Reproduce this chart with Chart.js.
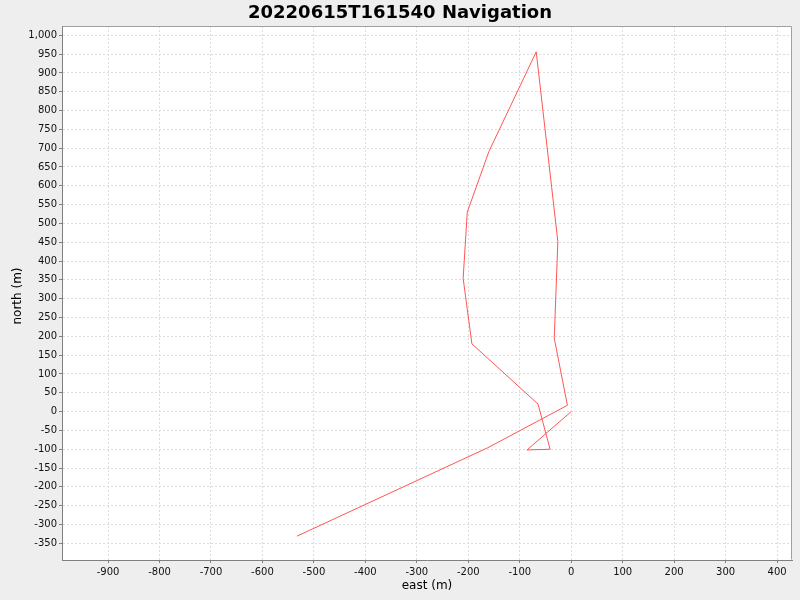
<!DOCTYPE html>
<html>
<head>
<meta charset="utf-8">
<script src="https://cdn.jsdelivr.net/npm/chart.js@4.4.1/dist/chart.umd.min.js"></script>
<style>
html,body{margin:0;padding:0;background:#eeeeee;}
#wrap{width:800px;height:600px;}
</style>
</head>
<body>
<div id="wrap"><canvas id="c" width="800" height="600"></canvas></div>
<script>
// Data (metres)
const eastValues  = [0, -86, -41, -64.5, -193, -210, -202, -160, -68, -26, -33, -7.4, -162, -533];
const northValues = [0, -102, -100, 20, 180, 354, 530, 691, 956, 452, 195, 16.7, -96, -331];
const xTickValues = [-900, -800, -700, -600, -500, -400, -300, -200, -100, 0, 100, 200, 300, 400];
const yTickValues = [-350, -300, -250, -200, -150, -100, -50, 0, 50, 100, 150, 200, 250, 300, 350, 400, 450, 500, 550, 600, 650, 700, 750, 800, 850, 900, 950, 1000];
const titleText = '20220615T161540 Navigation';
const xTitle = 'east (m)';
const yTitle = 'north (m)';

const points = eastValues.map((e, i) => ({x: e, y: northValues[i]}));

const bgPlugin = {
  id: 'bg',
  beforeDraw(chart) {
    const {ctx, chartArea: a} = chart;
    ctx.save();
    ctx.fillStyle = '#eeeeee';
    ctx.fillRect(0, 0, chart.width, chart.height);
    ctx.fillStyle = '#ffffff';
    ctx.fillRect(a.left, a.top, a.right - a.left, a.bottom - a.top);
    ctx.restore();
  },
  afterDraw(chart) {
    const {ctx, chartArea: a} = chart;
    ctx.save();
    ctx.strokeStyle = '#a0a0a0';
    ctx.lineWidth = 1;
    ctx.beginPath();
    ctx.moveTo(Math.round(a.left) + 0.5, Math.round(a.top) + 0.5);
    ctx.lineTo(Math.round(a.right) - 0.5, Math.round(a.top) + 0.5);
    ctx.lineTo(Math.round(a.right) - 0.5, Math.round(a.bottom) - 0.5);
    ctx.stroke();
    // y axis title, centred like the reference
    ctx.translate(18, (a.top + a.bottom) / 2 + 3);
    ctx.rotate(-Math.PI / 2);
    ctx.fillStyle = '#000';
    ctx.font = '12px "DejaVu Sans"';
    ctx.textAlign = 'center';
    ctx.textBaseline = 'middle';
    ctx.fillText(yTitle, 0, 0);
    ctx.restore();
  }
};

const tickFont = {family: 'DejaVu Sans', size: 10};
const gridCommon = {
  color: '#dcdcdc',
  lineWidth: 1,
  tickLength: 3,
  tickColor: '#808080',
  tickWidth: 1,
  tickBorderDash: [1, 0]
};

new Chart(document.getElementById('c'), {
  type: 'scatter',
  data: {
    datasets: [{
      data: points,
      showLine: true,
      borderColor: '#ff5555',
      backgroundColor: '#ff5555',
      borderWidth: 1,
      pointRadius: 0,
      pointHoverRadius: 0,
      tension: 0
    }]
  },
  options: {
    responsive: false,
    animation: false,
    devicePixelRatio: 1,
    layout: {padding: 0},
    plugins: {
      legend: {display: false},
      tooltip: {enabled: false},
      title: {
        display: true,
        text: titleText,
        color: '#000',
        font: {family: 'DejaVu Sans', size: 18, weight: 'bold', lineHeight: 1.2},
        padding: {top: 3, bottom: 1.4}
      }
    },
    scales: {
      x: {
        type: 'linear',
        position: 'bottom',
        min: -989.5,
        max: 429,
        afterBuildTicks: s => { s.ticks = xTickValues.map(v => ({value: v})); },
        afterFit: s => { s.height = 40; },
        ticks: {
          font: tickFont, color: '#111', padding: 3, maxRotation: 0, autoSkip: false,
          callback: v => Number(v).toLocaleString('en-US')
        },
        grid: gridCommon,
        border: {display: true, color: '#808080', width: 1, dash: [2, 2]},
        title: {
          display: true, text: xTitle, color: '#000',
          font: {family: 'DejaVu Sans', size: 12, lineHeight: 1.2},
          padding: {top: 0, bottom: 7}
        }
      },
      y: {
        type: 'linear',
        position: 'left',
        min: -394.4,
        max: 1024.7,
        afterBuildTicks: s => { s.ticks = yTickValues.map(v => ({value: v})); },
        afterFit: s => { s.width = 62; },
        ticks: {
          font: tickFont, color: '#111', padding: 2, autoSkip: false,
          callback: v => Number(v).toLocaleString('en-US')
        },
        grid: gridCommon,
        border: {display: true, color: '#808080', width: 1, dash: [2, 2]},
        title: {display: false}
      },
      yR: {
        type: 'linear',
        position: 'right',
        display: true,
        afterFit: s => { s.width = 8; },
        ticks: {display: false},
        grid: {display: false, drawTicks: false},
        border: {display: false},
        title: {display: false}
      }
    }
  },
  plugins: [bgPlugin]
});
</script>
</body>
</html>
